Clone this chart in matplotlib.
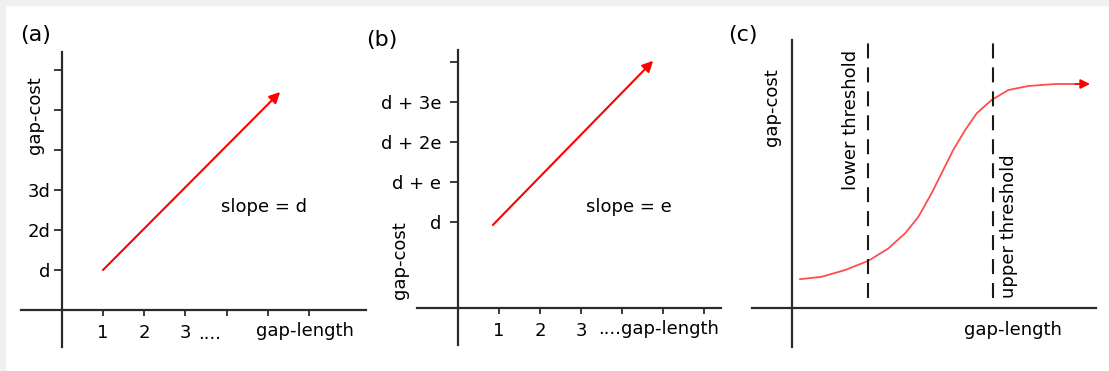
import matplotlib
matplotlib.use('Agg')
import matplotlib.pyplot as plt
from matplotlib.patches import Rectangle

W, H = 1109, 371

# panel (a): linear gap cost
a_xticks = [1, 2, 3, 4, 5, 6]
a_xlabels = ['1', '2', '3', '', '', '']
a_yticks = [1, 2, 3, 4, 5, 6]
a_ylabels = ['d', '2d', '3d', '', '', '']
a_arrow_x = [1.0, 5.3]
a_arrow_y = [1.0, 5.45]

# panel (b): affine gap cost
b_xticks = [1, 2, 3, 4, 5, 6]
b_xlabels = ['1', '2', '3', '', '', '']
b_yticks = [2, 3, 4, 5, 6]
b_ylabels = ['d', 'd + e', 'd + 2e', 'd + 3e', '']
b_arrow_x = [0.85, 4.76]
b_arrow_y = [1.925, 6.03]

# panel (c): sigmoid gap cost
c_x = [0.2, 0.74, 1.33, 1.91, 2.41, 2.83, 3.16, 3.49, 3.78, 4.03, 4.33,
       4.62, 4.99, 5.41, 5.91, 6.58, 7.08, 7.45]
c_y = [0.72, 0.78, 0.95, 1.18, 1.49, 1.87, 2.28, 2.87, 3.45, 3.95, 4.45,
       4.87, 5.2, 5.45, 5.55, 5.6, 5.6, 5.6]
c_lower = 1.9
c_upper = 5.03

axis_col = '#2b2b2b'
fs = 13


def make_axes(fig, x0, y0, x1, y1):
    # pixel box -> figure fraction
    return fig.add_axes([x0 / W, (H - y1) / H, (x1 - x0) / W, (y1 - y0) / H])


def style_axes(ax, xpos=0, ypos=0):
    ax.set_facecolor('none')
    for s in ['top', 'right']:
        ax.spines[s].set_visible(False)
    ax.spines['left'].set_position(('data', xpos))
    ax.spines['bottom'].set_position(('data', ypos))
    for s in ['left', 'bottom']:
        ax.spines[s].set_color(axis_col)
        ax.spines[s].set_linewidth(1.6)
    ax.tick_params(axis='y', direction='out', length=6, width=1.3, color=axis_col, labelsize=fs, pad=2)
    ax.tick_params(axis='x', direction='out', length=4, width=1.3, color=axis_col, labelsize=fs, pad=6)


def arrow(ax, xs, ys, color='red', lw=1.5, ms=16):
    ax.annotate('', xy=(xs[-1], ys[-1]), xytext=(xs[-2], ys[-2]),
                arrowprops=dict(arrowstyle='-|>', color=color, lw=lw,
                                mutation_scale=ms, shrinkA=0, shrinkB=0))


fig = plt.figure(figsize=(W / 100, H / 100), dpi=100)
fig.patch.set_facecolor('white')
fig.patches.append(Rectangle((0, 0), 5 / W, 1, transform=fig.transFigure, color='#f0f0f0', zorder=-10))
fig.patches.append(Rectangle((0, 1 - 5 / H), 1, 5 / H, transform=fig.transFigure, color='#f0f0f0', zorder=-10))

# ---- (a)
ax = make_axes(fig, 21, 52, 366, 347)
ax.set_xlim((21 - 61.8) / 41.2, (366 - 61.8) / 41.2)
ax.set_ylim((310 - 347) / 40, (310 - 52) / 40)
style_axes(ax)
ax.set_xticks(a_xticks, a_xlabels)
ax.set_yticks(a_yticks, a_ylabels)
arrow(ax, a_arrow_x, a_arrow_y)
ax.text(4.9, 2.58, 'slope = d', fontsize=fs, ha='center', va='center')
ax.text(3.6, -0.6, '....', fontsize=fs, ha='center', va='center')
ax.text(5.9, -0.53, 'gap-length', fontsize=fs, ha='center', va='center')
ax.text(-0.65, 4.875, 'gap-cost', fontsize=fs, rotation=90, ha='center', va='center')

# ---- (b)
ax = make_axes(fig, 417, 50, 721, 345)
ax.set_xlim((417 - 458) / 41, (721 - 458) / 41)
ax.set_ylim(2 + (222 - 345) / 40, 2 + (222 - 50) / 40)
style_axes(ax, 0, -0.15)
ax.tick_params(axis='y', pad=6)
ax.set_xticks(b_xticks, b_xlabels)
ax.set_yticks(b_yticks, b_ylabels)
arrow(ax, b_arrow_x, b_arrow_y)
ax.text(4.17, 2.375, 'slope = e', fontsize=fs, ha='center', va='center')
ax.text(4.88, -0.68, '....gap-length', fontsize=fs, ha='center', va='center')
ax.text(-1.41, 1.05, 'gap-cost', fontsize=fs, rotation=90, ha='center', va='center')

# ---- (c)
ax = make_axes(fig, 752, 40, 1096, 347)
ax.set_xlim((752 - 792) / 40, (1096 - 792) / 40)
ax.set_ylim((308 - 347) / 40, (308 - 40) / 40)
style_axes(ax)
ax.set_xticks([])
ax.set_yticks([])
ax.plot(c_x[:-1], c_y[:-1], color='#ff4d4d', lw=1.3, solid_joinstyle='round')
arrow(ax, c_x[-2:], c_y[-2:], color='red', lw=1.3, ms=14)
for xv in [c_lower, c_upper]:
    ax.plot([xv, xv], [0.25, 6.63], color='#1a1a1a', lw=1.5, linestyle=(0, (7.2, 4.3)))
ax.text(1.475, 4.7, 'lower threshold', fontsize=fs, rotation=90, ha='center', va='center')
ax.text(5.43, 2.05, 'upper threshold', fontsize=fs, rotation=90, ha='center', va='center')
ax.text(-0.5, 5.03, 'gap-cost', fontsize=fs, rotation=90, ha='center', va='center')
ax.text(5.53, -0.55, 'gap-length', fontsize=fs, ha='center', va='center')

fig.text(36 / W, 1 - 35 / H, '(a)', fontsize=16, ha='center', va='center')
fig.text(382 / W, 1 - 40 / H, '(b)', fontsize=16, ha='center', va='center')
fig.text(743 / W, 1 - 35 / H, '(c)', fontsize=16, ha='center', va='center')

fig.savefig('out.png', dpi=100)
